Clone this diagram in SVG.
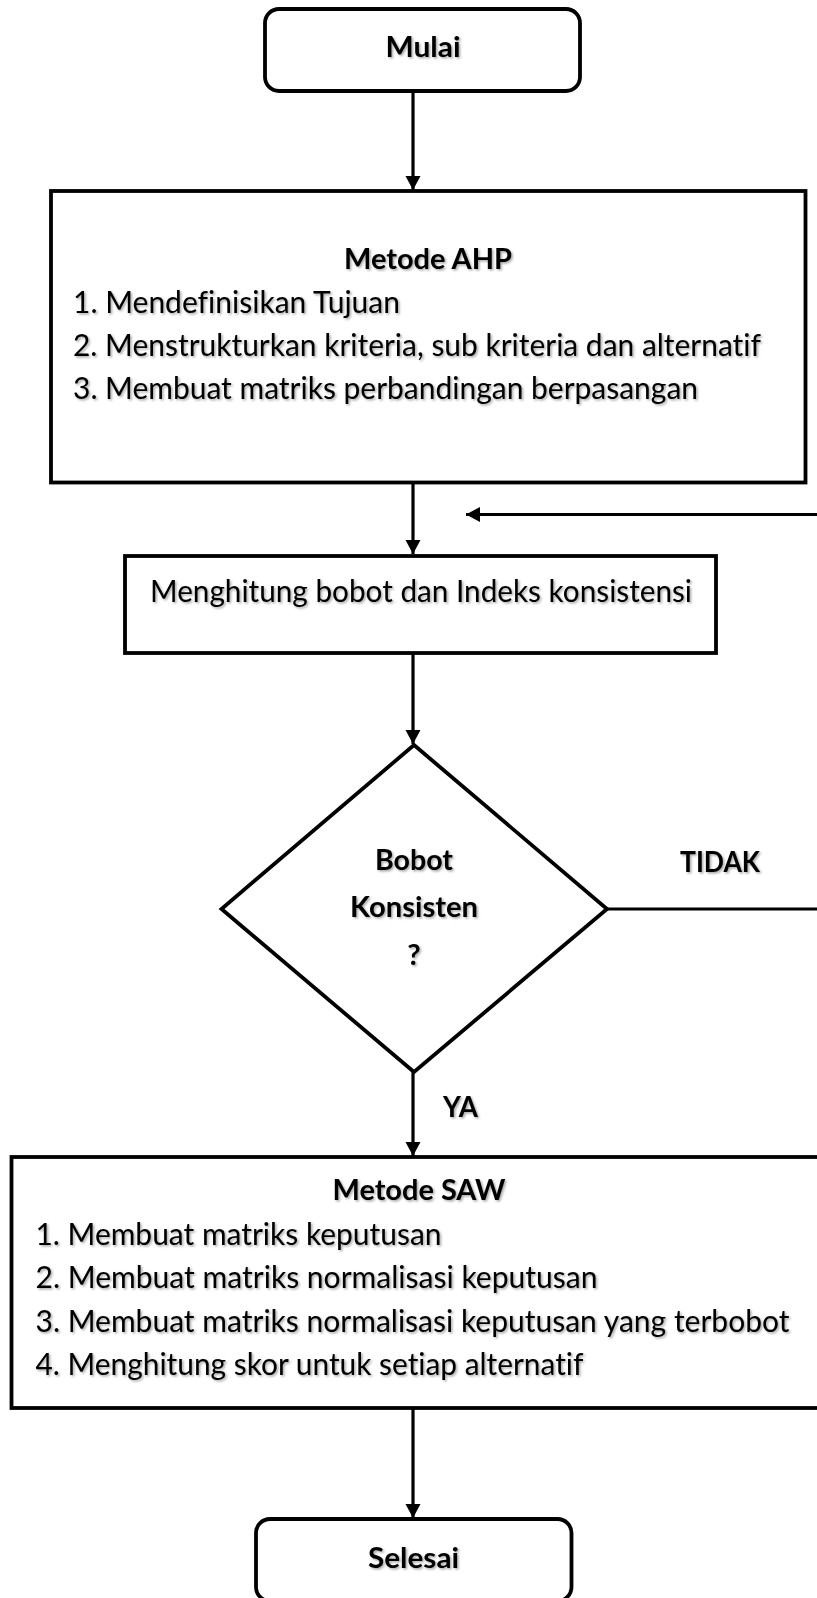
<svg xmlns="http://www.w3.org/2000/svg" width="817" height="1598" viewBox="0 0 817 1598">
<style>
.box{fill:#fff;stroke:#000;stroke-width:3.8}
.conn{fill:none;stroke:#000;stroke-width:3.2}
text{font-family:Lato,"Liberation Sans",sans-serif;font-size:30px;fill:#000;font-variant-ligatures:none}
.b{font-weight:700;text-anchor:middle;font-size:29px}
.c{text-anchor:middle}
</style>
<defs>
<marker id="ah" markerUnits="userSpaceOnUse" markerWidth="15" markerHeight="16" refX="14" refY="7.5" orient="auto">
<path d="M0,0 L14,7.5 L0,15 z" fill="#000"/>
</marker>
<filter id="sh" x="-10%" y="-30%" width="120%" height="160%">
<feDropShadow dx="1.5" dy="1.5" stdDeviation="0.8" flood-color="#000" flood-opacity="0.35"/>
</filter>
</defs>
<g id="connectors">
<line class="conn" x1="413" y1="91" x2="413" y2="190" marker-end="url(#ah)"/>
<line class="conn" x1="413" y1="483" x2="413" y2="554" marker-end="url(#ah)"/>
<line class="conn" x1="830" y1="514.5" x2="466" y2="514.5" marker-end="url(#ah)"/>
<line class="conn" x1="413" y1="653" x2="413" y2="744" marker-end="url(#ah)"/>
<line class="conn" x1="607" y1="909" x2="830" y2="909"/>
<line class="conn" x1="413" y1="1072" x2="413" y2="1156" marker-end="url(#ah)"/>
<line class="conn" x1="413" y1="1408" x2="413" y2="1518" marker-end="url(#ah)"/>
<text class="b" x="720" y="872" filter="url(#sh)" textLength="80" lengthAdjust="spacingAndGlyphs">TIDAK</text>
<text class="b" x="460.5" y="1117" filter="url(#sh)" textLength="35" lengthAdjust="spacingAndGlyphs">YA</text>
</g>
<g id="mulai">
<rect class="box" x="265" y="9" width="315" height="82" rx="14"/>
<text class="b" x="423" y="57" filter="url(#sh)" textLength="75" lengthAdjust="spacingAndGlyphs">Mulai</text>
</g>
<g id="ahp">
<rect class="box" x="51" y="191" width="754.5" height="291.5"/>
<text class="b" x="428" y="269" filter="url(#sh)" textLength="168" lengthAdjust="spacingAndGlyphs">Metode AHP</text>
<g filter="url(#sh)">
<text x="73" y="313" textLength="327" lengthAdjust="spacingAndGlyphs">1. Mendefinisikan Tujuan</text>
<text x="73" y="356" textLength="688" lengthAdjust="spacingAndGlyphs">2. Menstrukturkan kriteria, sub kriteria dan alternatif</text>
<text x="73" y="399" textLength="625" lengthAdjust="spacingAndGlyphs">3. Membuat matriks perbandingan berpasangan</text>
</g>
</g>
<g id="hitung">
<rect class="box" x="125" y="556" width="591" height="97"/>
<text class="c" x="421" y="602" filter="url(#sh)" textLength="542" lengthAdjust="spacingAndGlyphs">Menghitung bobot dan Indeks konsistensi</text>
</g>
<g id="decision">
<polygon class="box" points="414,745 607,909 414,1072 221.5,909"/>
<g filter="url(#sh)">
<text class="b" x="414" y="870" textLength="78" lengthAdjust="spacingAndGlyphs">Bobot</text>
<text class="b" x="414" y="917" textLength="128" lengthAdjust="spacingAndGlyphs">Konsisten</text>
<text class="b" x="414" y="965">?</text>
</g>
</g>
<g id="saw">
<rect class="box" x="11.5" y="1157" width="830" height="251"/>
<text class="b" x="419" y="1200" filter="url(#sh)" textLength="173" lengthAdjust="spacingAndGlyphs">Metode SAW</text>
<g filter="url(#sh)">
<text x="35.5" y="1245" textLength="406" lengthAdjust="spacingAndGlyphs">1. Membuat matriks keputusan</text>
<text x="35.5" y="1288" textLength="562" lengthAdjust="spacingAndGlyphs">2. Membuat matriks normalisasi keputusan</text>
<text x="35.5" y="1332" textLength="754" lengthAdjust="spacingAndGlyphs">3. Membuat matriks normalisasi keputusan yang terbobot</text>
<text x="35.5" y="1375" textLength="548" lengthAdjust="spacingAndGlyphs">4. Menghitung skor untuk setiap alternatif</text>
</g>
</g>
<g id="selesai">
<rect class="box" x="256" y="1519" width="315.5" height="82" rx="14"/>
<text class="b" x="413.5" y="1568" filter="url(#sh)" textLength="91" lengthAdjust="spacingAndGlyphs">Selesai</text>
</g>
</svg>
